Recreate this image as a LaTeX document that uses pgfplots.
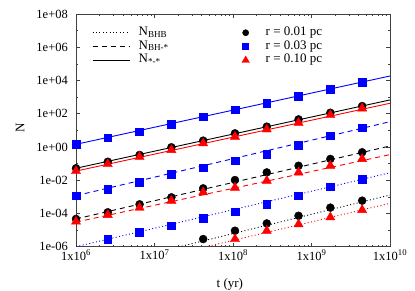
\documentclass[border=0pt]{standalone}
\usepackage{fontspec}
\setmainfont{Liberation Serif}
\usepackage{pgfplots}
\usepackage{pgfplotstable}
\pgfplotsset{compat=1.18}

% r = 0.01 pc (black)
\pgfplotstableread{
t star bh bhb
1e6 0.05248 4.677e-5 nan
2.541e6 0.1288 1.175e-4 nan
6.457e6 0.3311 3.548e-4 nan
1.641e7 0.955 9.333e-4 nan
4.169e7 2.399 3.236e-3 2.884e-6
1.059e8 6.607 1.023e-2 9.120e-6
2.692e8 16.60 2.951e-2 2.512e-5
6.839e8 45.71 7.413e-2 7.244e-5
1.738e9 114.8 0.1905 2.239e-4
4.416e9 288.4 0.4786 5.888e-4
}\rA
% r = 0.03 pc (blue)
\pgfplotstableread{
t star bh bhb
1e6 1.445 1.175e-3 nan
2.541e6 3.631 2.951e-3 2.754e-6
6.457e6 8.318 7.413e-3 7.413e-6
1.641e7 23.99 2.239e-2 1.820e-5
4.169e7 66.07 5.623e-2 5.129e-5
1.059e8 173.8 0.1479 1.259e-4
2.692e8 426.6 0.3802 3.715e-4
6.839e8 1122 1.259 1.175e-3
1.738e9 3090 4.786 4.074e-3
4.416e9 8128 14.45 1.122e-2
}\rB
% r = 0.10 pc (red)
\pgfplotstableread{
t star bh bhb
1e6 0.03548 3.236e-5 nan
2.541e6 0.09333 8.128e-5 nan
6.457e6 0.2570 2.239e-4 nan
1.641e7 0.6607 5.888e-4 nan
4.169e7 1.660 1.862e-3 nan
1.059e8 4.169 3.548e-3 2.884e-6
2.692e8 11.48 9.333e-3 9.120e-6
6.839e8 28.84 2.951e-2 2.239e-5
1.738e9 83.18 7.413e-2 5.888e-5
4.416e9 208.9 0.1905 1.622e-4
}\rC
% power-law fit lines (end points)
\pgfplotstableread{
t bs ks rs bd kd rd bo ko ro
1e6 1.445 0.05248 0.03548 1.175e-3 4.677e-5 3.020e-5 1e-6 2.951e-8 1.413e-8
1e10 1.862e4 676.1 426.6 33.11 1.148 0.3467 2.818e-2 1.288e-3 4.074e-4
}\fits

\definecolor{gblue}{RGB}{0,0,255}
\definecolor{gred}{RGB}{255,0,0}

\tikzset{
  dotl/.style={dash pattern=on 1pt off 2.4pt},
  dashl/.style={dash pattern=on 5pt off 4pt},
}

\begin{document}
\begin{tikzpicture}
\useasboundingbox (0,0) rectangle (415pt,291pt);
\begin{axis}[
  at={(76pt,44.3pt)}, anchor=south west, scale only axis,
  width=314pt, height=232.7pt,
  xmode=log, ymode=log, xmin=1e6, xmax=1e10, ymin=1e-6, ymax=1e8,
  xtick={1e6,1e7,1e8,1e9,1e10},
  xticklabels={1x10\textsuperscript{6},1x10\textsuperscript{7},1x10\textsuperscript{8},1x10\textsuperscript{9},1x10\textsuperscript{10}},
  ytick={1e-6,1e-4,1e-2,1,1e2,1e4,1e6,1e8},
  yticklabels={1e-06,1e-04,1e-02,1e+00,1e+02,1e+04,1e+06,1e+08},
  minor ytick={1e-5,1e-3,1e-1,1e1,1e3,1e5,1e7},
  tick align=inside, major tick length=4pt, minor tick length=2pt,
  axis line style={black!75, line width=0.8pt},
  every tick/.style={black!75, line width=0.6pt},
  tick label style={font=\fontsize{12.5}{14}\selectfont},
  yticklabel style={inner sep=0pt, xshift=-8pt},
  xticklabel style={inner sep=0pt, yshift=-3pt},
  xlabel={t (yr)}, ylabel={N},
  label style={font=\fontsize{13}{15}\selectfont},
  xlabel style={at={(axis description cs:0.49,-0.16)}, anchor=center},
  ylabel style={at={(axis description cs:-0.178,0.51)}, anchor=center},
  legend cell align=left,
  legend image code/.code={\draw[#1, line width=0.9pt] (0pt,0pt) -- (37pt,0pt);},
  legend style={draw=none, fill=none, at={(rel axis cs:0.051,0.95)}, anchor=north west,
    inner sep=0pt, row sep=0pt, column sep=8.5pt,
    nodes={inner sep=0pt, text height=9.5pt, text depth=4.3pt, font=\fontsize{13}{15}\selectfont}},
]
\addlegendimage{black, dotl}
\addlegendentry{N\textsubscript{BHB}}
\addlegendimage{black, dashl}
\addlegendentry{N\textsubscript{BH-*}}
\addlegendimage{black}
\addlegendentry{N\textsubscript{*-*}}

% fit lines
\addplot[forget plot, gblue, line width=0.9pt] table[x=t, y=bs] {\fits};
\addplot[forget plot, black, line width=0.9pt] table[x=t, y=ks] {\fits};
\addplot[forget plot, gred, line width=0.9pt] table[x=t, y=rs] {\fits};
\addplot[forget plot, gblue, line width=0.9pt, dashl] table[x=t, y=bd] {\fits};
\addplot[forget plot, black, line width=0.9pt, dashl] table[x=t, y=kd] {\fits};
\addplot[forget plot, gred, line width=0.9pt, dashl] table[x=t, y=rd] {\fits};
\addplot[forget plot, gblue, line width=0.9pt, dotl] table[x=t, y=bo] {\fits};
\addplot[forget plot, black, line width=0.9pt, dotl] table[x=t, y=ko] {\fits};
\addplot[forget plot, gred, line width=0.9pt, dotl] table[x=t, y=ro] {\fits};

% data points
\addplot[forget plot, only marks, mark=square*, mark size=3.9pt, gblue] table[x=t, y=star] {\rB};
\addplot[forget plot, only marks, mark=square*, mark size=3.9pt, gblue] table[x=t, y=bh] {\rB};
\addplot[forget plot, only marks, mark=square*, mark size=3.9pt, gblue] table[x=t, y=bhb] {\rB};
\addplot[forget plot, only marks, mark=*, mark size=4pt, black] table[x=t, y=star] {\rA};
\addplot[forget plot, only marks, mark=*, mark size=4pt, black] table[x=t, y=bh] {\rA};
\addplot[forget plot, only marks, mark=*, mark size=4pt, black] table[x=t, y=bhb] {\rA};
\addplot[forget plot, only marks, mark=triangle*, mark size=5.3pt, gred] table[x=t, y=star] {\rC};
\addplot[forget plot, only marks, mark=triangle*, mark size=5.3pt, gred] table[x=t, y=bh] {\rC};
\addplot[forget plot, only marks, mark=triangle*, mark size=5.3pt, gred] table[x=t, y=bhb] {\rC};
\end{axis}

\begin{axis}[
  at={(76pt,44.3pt)}, anchor=south west, scale only axis,
  width=314pt, height=232.7pt,
  xmode=log, ymode=log, xmin=1e6, xmax=1e10, ymin=1e-6, ymax=1e8,
  hide axis,
  legend cell align=left,
  legend style={draw=none, fill=none, at={(rel axis cs:0.527,0.95)}, anchor=north west,
    inner sep=0pt, row sep=0pt, column sep=4pt,
    nodes={inner sep=0pt, text height=9.5pt, text depth=4.3pt, font=\fontsize{13}{15}\selectfont}},
]
\addlegendimage{legend image code/.code={\path[draw=none, fill=none] (0pt,0pt) -- (20pt,0pt); \path[draw=none, black, mark=*, mark size=3.1pt] plot coordinates {(4pt,0pt)};}}
\addlegendentry{r = 0.01 pc}
\addlegendimage{legend image code/.code={\path[draw=none, fill=none] (0pt,0pt) -- (20pt,0pt); \path[draw=none, gblue, mark=square*, mark size=3pt] plot coordinates {(4pt,0pt)};}}
\addlegendentry{r = 0.03 pc}
\addlegendimage{legend image code/.code={\path[draw=none, fill=none] (0pt,0pt) -- (20pt,0pt); \path[draw=none, gred, mark=triangle*, mark size=4.3pt] plot coordinates {(4pt,0pt)};}}
\addlegendentry{r = 0.10 pc}
\end{axis}
\end{tikzpicture}
\end{document}
